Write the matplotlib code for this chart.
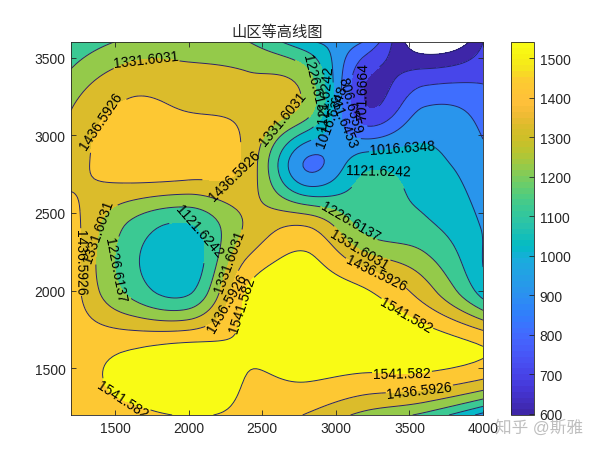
import numpy as np
import matplotlib
matplotlib.use("Agg")
import matplotlib.pyplot as plt
from matplotlib.cm import ScalarMappable
from matplotlib.colors import LinearSegmentedColormap, Normalize

plt.rcParams['font.family'] = ['Liberation Sans', 'Noto Sans CJK SC', 'DejaVu Sans']

x_vals = [1200, 1600, 2000, 2400, 2800, 3200, 3600, 4000]
y_vals = [1200, 1600, 2000, 2400, 2800, 3200, 3600]
height_rows = [
    [1480, 1500, 1550, 1510, 1430, 1300, 1200, 980],
    [1500, 1550, 1600, 1550, 1600, 1600, 1600, 1550],
    [1500, 1200, 1100, 1550, 1600, 1550, 1380, 1070],
    [1500, 1200, 1100, 1350, 1450, 1200, 1150, 1010],
    [1390, 1500, 1500, 1400, 900, 1100, 1060, 950],
    [1320, 1450, 1420, 1400, 1300, 700, 900, 850],
    [1130, 1250, 1280, 1230, 1040, 900, 500, 700],
]
contour_levels = [596.677, 701.6664, 806.6559, 911.6453, 1016.6348,
                  1121.6242, 1226.6137, 1331.6031, 1436.5926, 1541.582]
x_ticks = [1500, 2000, 2500, 3000, 3500, 4000]
y_ticks = [1500, 2000, 2500, 3000, 3500]
bar_ticks = [600, 700, 800, 900, 1000, 1100, 1200, 1300, 1400, 1500]

parula = [
    (0.2422, 0.1504, 0.6603), (0.2578, 0.1818, 0.7511), (0.2706, 0.2147, 0.8364),
    (0.2783, 0.2559, 0.8991), (0.2813, 0.3006, 0.9414), (0.2795, 0.3447, 0.9717),
    (0.2699, 0.3892, 0.9906), (0.2440, 0.4358, 0.9988), (0.1963, 0.4847, 0.9892),
    (0.1786, 0.5289, 0.9682), (0.1687, 0.5703, 0.9359), (0.1460, 0.6091, 0.9079),
    (0.1248, 0.6459, 0.8883), (0.0952, 0.6798, 0.8598),
    (0.0067, 0.7312, 0.7660), (0.0964, 0.7500, 0.7120), (0.1717, 0.7670, 0.6554),
    (0.2161, 0.7843, 0.5923), (0.2906, 0.7973, 0.5188), (0.3909, 0.8029, 0.4354),
    (0.5044, 0.7993, 0.3480), (0.6174, 0.7876, 0.2612), (0.7242, 0.7698, 0.1910),
    (0.8000, 0.7500, 0.1535), (0.8500, 0.7400, 0.1650), (0.9300, 0.7300, 0.2000),
    (0.9970, 0.7500, 0.2300), (0.9950, 0.7700, 0.2100), (0.9910, 0.7950, 0.1900),
    (0.9597, 0.8949, 0.1132), (0.9691, 0.9500, 0.0739), (0.9769, 0.9839, 0.0805),
]

# which contour each label sits on, and where (picture pixels)
label_levels = [1331.6031, 1436.5926, 1436.5926, 1331.6031, 1226.6137, 1121.6242,
                1016.6348, 911.6453, 806.6559, 701.6664, 1016.6348, 1121.6242,
                1226.6137, 1331.6031, 1436.5926, 1541.582, 1541.582, 1436.5926,
                1541.582, 1436.5926, 1331.6031, 1226.6137, 1121.6242, 1331.6031,
                1436.5926, 1541.582]
label_px = [(146, 62), (110, 128), (234, 175), (282, 118), (307, 88), (320, 98),
            (325, 116), (348, 121), (357, 105), (373, 93), (403, 151), (378, 184),
            (350, 222), (365, 240), (380, 264), (410, 310), (402, 374), (420, 396),
            (124, 397), (80, 263), (104, 233), (122, 270), (190, 239), (230, 262),
            (223, 302), (246, 306)]


def keys(s):
    s = np.abs(s)
    return np.where(s < 1, 1.5 * s**3 - 2.5 * s**2 + 1,
                    np.where(s < 2, -0.5 * s**3 + 2.5 * s**2 - 4 * s + 2, 0.0))


def cubic_weights(grid, new):
    # keys convolution weights, what matlab's interp2 'cubic' uses on a even grid
    step = grid[1] - grid[0]
    n = len(grid)
    w = keys((new[:, None] - (grid[0] + step * np.arange(-1, n + 1))[None, :]) / step)
    # outer ghost points: f(-1) = 3f0 - 3f1 + f2
    w[:, 1:4] += w[:, [0]] * np.array([3, -3, 1])
    w[:, n - 2:n + 1] += w[:, [n + 1]] * np.array([1, -3, 3])
    return w[:, 1:n + 1]


xs = np.array(x_vals, dtype=float)
ys = np.array(y_vals, dtype=float)
z = np.array(height_rows, dtype=float)
xi = np.arange(1200, 4001, 20.0)
yi = np.arange(1200, 3601, 20.0)
zi = cubic_weights(ys, yi) @ z @ cubic_weights(xs, xi).T

cmap = LinearSegmentedColormap.from_list('parula', parula, N=64)
norm = Normalize(contour_levels[0], contour_levels[-1])
fill_colors = [cmap(norm(v)) for v in contour_levels]

fig = plt.figure(figsize=(6, 4.52), dpi=100)
W, H = 600.0, 452.0
ax = fig.add_axes([71 / W, 1 - 416 / H, 412 / W, 373 / H])
ax.contourf(xi, yi, zi, levels=contour_levels + [zi.max() + 1], colors=fill_colors)
ax.set_xlim(1200, 4000)
ax.set_ylim(1200, 3600)


def px(p, q):
    return 1200 + (p - 71) / 412 * 2800, 1200 + (416 - q) / 373 * 2400


# one contour set per level, so a label can't jump to a neighbouring line
for level in contour_levels:
    lines = ax.contour(xi, yi, zi, levels=[level], colors='#26246a', linewidths=0.7)
    spots = [px(*p) for lv, p in zip(label_levels, label_px) if lv == level]
    if spots:
        ax.clabel(lines, fmt=lambda v: '%.8g' % v, fontsize=10, colors='black',
                  inline=True, inline_spacing=1, manual=spots)

ax.set_xticks(x_ticks)
ax.set_yticks(y_ticks)
ax.tick_params(direction='in', top=True, right=True, length=3.5, width=0.6,
               labelsize=10, color='#262626', labelcolor='#262626', pad=4)
for s in ax.spines.values():
    s.set_linewidth(0.6)
    s.set_color('#262626')
ax.set_title('山区等高线图', fontsize=11, color='#262626', pad=4)

cax = fig.add_axes([511 / W, 1 - 416 / H, 23 / W, 373 / H])
cb = fig.colorbar(ScalarMappable(norm=norm, cmap=cmap), cax=cax)
cb.set_ticks(bar_ticks)
cb.ax.tick_params(direction='in', length=3.5, width=0.6, labelsize=10,
                  color='#262626', labelcolor='#262626', pad=4)
cb.outline.set_linewidth(0.6)
cb.outline.set_edgecolor('#262626')

fig.text(539 / W, 1 - 428 / H, '知乎 @斯雅', fontsize=12, color='#8a8a8a', alpha=0.55,
         ha='center', va='center')

fig.savefig('out.png', dpi=100)
